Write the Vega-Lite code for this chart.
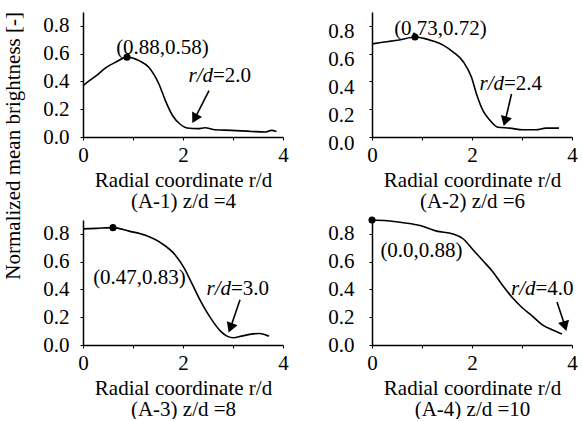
{
  "$schema": "https://vega.github.io/schema/vega-lite/v6.json",
  "padding": {"left": 2, "top": 12, "right": 2, "bottom": 0},
  "title": {"text": "Normalized mean brightness [-]", "orient": "left", "anchor": "end", "offset": 19, "font": "Liberation Serif", "fontSize": 21, "fontWeight": "normal", "color": "black"},
  "datasets": {
    "curve": [
      {"p": "A-1", "x": 0, "y": 0.37}, {"p": "A-1", "x": 0.07, "y": 0.39}, {"p": "A-1", "x": 0.26, "y": 0.44}, {"p": "A-1", "x": 0.46, "y": 0.5}, {"p": "A-1", "x": 0.66, "y": 0.54}, {"p": "A-1", "x": 0.88, "y": 0.575}, {"p": "A-1", "x": 1.12, "y": 0.55}, {"p": "A-1", "x": 1.32, "y": 0.5}, {"p": "A-1", "x": 1.52, "y": 0.38}, {"p": "A-1", "x": 1.65, "y": 0.26}, {"p": "A-1", "x": 1.79, "y": 0.155}, {"p": "A-1", "x": 1.95, "y": 0.09}, {"p": "A-1", "x": 2.08, "y": 0.065}, {"p": "A-1", "x": 2.3, "y": 0.06}, {"p": "A-1", "x": 2.44, "y": 0.067}, {"p": "A-1", "x": 2.64, "y": 0.052}, {"p": "A-1", "x": 2.97, "y": 0.048}, {"p": "A-1", "x": 3.37, "y": 0.04}, {"p": "A-1", "x": 3.64, "y": 0.036}, {"p": "A-1", "x": 3.77, "y": 0.048}, {"p": "A-1", "x": 3.87, "y": 0.04},
      {"p": "A-2", "x": 0, "y": 0.67}, {"p": "A-2", "x": 0.18, "y": 0.68}, {"p": "A-2", "x": 0.38, "y": 0.69}, {"p": "A-2", "x": 0.57, "y": 0.7}, {"p": "A-2", "x": 0.86, "y": 0.72}, {"p": "A-2", "x": 1.04, "y": 0.71}, {"p": "A-2", "x": 1.23, "y": 0.69}, {"p": "A-2", "x": 1.43, "y": 0.66}, {"p": "A-2", "x": 1.63, "y": 0.61}, {"p": "A-2", "x": 1.83, "y": 0.54}, {"p": "A-2", "x": 1.99, "y": 0.43}, {"p": "A-2", "x": 2.09, "y": 0.31}, {"p": "A-2", "x": 2.22, "y": 0.19}, {"p": "A-2", "x": 2.36, "y": 0.12}, {"p": "A-2", "x": 2.52, "y": 0.07}, {"p": "A-2", "x": 2.75, "y": 0.064}, {"p": "A-2", "x": 3.02, "y": 0.052}, {"p": "A-2", "x": 3.28, "y": 0.052}, {"p": "A-2", "x": 3.48, "y": 0.064}, {"p": "A-2", "x": 3.74, "y": 0.064},
      {"p": "A-3", "x": 0, "y": 0.836}, {"p": "A-3", "x": 0.27, "y": 0.84}, {"p": "A-3", "x": 0.6, "y": 0.845}, {"p": "A-3", "x": 0.92, "y": 0.82}, {"p": "A-3", "x": 1.25, "y": 0.79}, {"p": "A-3", "x": 1.58, "y": 0.73}, {"p": "A-3", "x": 1.84, "y": 0.65}, {"p": "A-3", "x": 2.03, "y": 0.55}, {"p": "A-3", "x": 2.16, "y": 0.456}, {"p": "A-3", "x": 2.36, "y": 0.31}, {"p": "A-3", "x": 2.55, "y": 0.195}, {"p": "A-3", "x": 2.75, "y": 0.1}, {"p": "A-3", "x": 2.88, "y": 0.064}, {"p": "A-3", "x": 3.01, "y": 0.052}, {"p": "A-3", "x": 3.17, "y": 0.064}, {"p": "A-3", "x": 3.4, "y": 0.08}, {"p": "A-3", "x": 3.53, "y": 0.083}, {"p": "A-3", "x": 3.66, "y": 0.071}, {"p": "A-3", "x": 3.72, "y": 0.064},
      {"p": "A-4", "x": 0, "y": 0.9}, {"p": "A-4", "x": 0.3, "y": 0.895}, {"p": "A-4", "x": 0.63, "y": 0.88}, {"p": "A-4", "x": 0.96, "y": 0.86}, {"p": "A-4", "x": 1.29, "y": 0.82}, {"p": "A-4", "x": 1.62, "y": 0.8}, {"p": "A-4", "x": 1.82, "y": 0.765}, {"p": "A-4", "x": 2.01, "y": 0.69}, {"p": "A-4", "x": 2.21, "y": 0.61}, {"p": "A-4", "x": 2.41, "y": 0.53}, {"p": "A-4", "x": 2.61, "y": 0.43}, {"p": "A-4", "x": 2.81, "y": 0.34}, {"p": "A-4", "x": 3.0, "y": 0.27}, {"p": "A-4", "x": 3.2, "y": 0.21}, {"p": "A-4", "x": 3.4, "y": 0.147}, {"p": "A-4", "x": 3.6, "y": 0.11}, {"p": "A-4", "x": 3.8, "y": 0.08}
    ],
    "peak": [
      {"p": "A-1", "x": 0.88, "y": 0.575, "tx": 1.59, "ty": 0.64, "t": "(0.88,0.58)"},
      {"p": "A-2", "x": 0.86, "y": 0.72, "tx": 1.37, "ty": 0.776, "t": "(0.73,0.72)"},
      {"p": "A-3", "x": 0.6, "y": 0.845, "tx": 1.13, "ty": 0.48, "t": "(0.47,0.83)"},
      {"p": "A-4", "x": 0, "y": 0.9, "tx": 0.99, "ty": 0.68, "t": "(0.0,0.88)"}
    ],
    "arrow": [
      {"p": "A-1", "x": 2.52, "y": 0.334, "x2": 2.25, "y2": 0.143, "lx": 2.6, "ly": 0.44, "v": "=2.0"},
      {"p": "A-2", "x": 2.79, "y": 0.31, "x2": 2.67, "y2": 0.124, "lx": 2.64, "ly": 0.38, "v": "=2.4"},
      {"p": "A-3", "x": 3.14, "y": 0.325, "x2": 2.96, "y2": 0.135, "lx": 2.96, "ly": 0.4, "v": "=3.0"},
      {"p": "A-4", "x": 3.7, "y": 0.31, "x2": 3.85, "y2": 0.147, "lx": 3.27, "ly": 0.4, "v": "=4.0"}
    ]
  },
  "config": {
    "font": "Liberation Serif",
    "view": {"stroke": null},
    "axis": {"grid": false, "domainColor": "black", "domainWidth": 1.5, "tickColor": "black", "labelColor": "black", "titleColor": "black", "labelFont": "Liberation Serif", "titleFont": "Liberation Serif", "labelFontSize": 21, "titleFontSize": 21, "titleFontWeight": "normal", "tickSize": 3, "labelFlush": false},
    "axisX": {"values": [0, 0.2, 0.4, 0.6, 0.8, 1, 1.2, 1.4, 1.6, 1.8, 2, 2.2, 2.4, 2.6, 2.8, 3, 3.2, 3.4, 3.6, 3.8, 4], "labelExpr": "datum.value == 0 || datum.value == 2 || datum.value == 4 ? format(datum.value, 'd') : ''", "labelPadding": 4, "titlePadding": 4, "titleLineHeight": 21},
    "axisY": {"values": [0, 0.2, 0.4, 0.6, 0.8], "format": ".1f", "labelPadding": 11, "title": null},
    "text": {"font": "Liberation Serif", "fontSize": 21, "color": "black"},
    "line": {"color": "black", "strokeWidth": 1.6, "interpolate": "monotone"},
    "rule": {"color": "black", "strokeWidth": 1.6},
    "point": {"color": "black", "filled": true, "opacity": 1}
  },
  "vconcat": [
    {"hconcat": [
      {"width": 200, "height": 125, "layer": [
        {"data": {"name": "curve"}, "transform": [{"filter": "datum.p == 'A-1'"}], "mark": {"type": "line"}, "encoding": {"x": {"field": "x", "type": "quantitative", "scale": {"domain": [0, 4]}, "axis": {"title": ["Radial coordinate r/d", "(A-1) z/d =4"]}}, "y": {"field": "y", "type": "quantitative", "scale": {"domain": [0, 0.9]}}}},
        {"data": {"name": "peak"}, "transform": [{"filter": "datum.p == 'A-1'"}], "mark": {"type": "point", "size": 50}, "encoding": {"x": {"field": "x", "type": "quantitative"}, "y": {"field": "y", "type": "quantitative"}}},
        {"data": {"name": "peak"}, "transform": [{"filter": "datum.p == 'A-1'"}], "mark": {"type": "text"}, "encoding": {"x": {"field": "tx", "type": "quantitative"}, "y": {"field": "ty", "type": "quantitative"}, "text": {"field": "t"}}},
        {"data": {"name": "arrow"}, "transform": [{"filter": "datum.p == 'A-1'"}], "mark": {"type": "rule"}, "encoding": {"x": {"field": "x", "type": "quantitative"}, "y": {"field": "y", "type": "quantitative"}, "x2": {"field": "x2"}, "y2": {"field": "y2"}}},
        {"data": {"name": "arrow"}, "transform": [{"filter": "datum.p == 'A-1'"}], "mark": {"type": "point", "shape": "triangle", "size": 130, "angle": 209}, "encoding": {"x": {"field": "x2", "type": "quantitative"}, "y": {"field": "y2", "type": "quantitative"}}},
        {"data": {"name": "arrow"}, "transform": [{"filter": "datum.p == 'A-1'"}], "mark": {"type": "text", "align": "right", "fontStyle": "italic", "text": "r/d"}, "encoding": {"x": {"field": "lx", "type": "quantitative"}, "y": {"field": "ly", "type": "quantitative"}}},
        {"data": {"name": "arrow"}, "transform": [{"filter": "datum.p == 'A-1'"}], "mark": {"type": "text", "align": "left"}, "encoding": {"x": {"field": "lx", "type": "quantitative"}, "y": {"field": "ly", "type": "quantitative"}, "text": {"field": "v"}}}
      ]},
      {"width": 200, "height": 125, "layer": [
        {"data": {"name": "curve"}, "transform": [{"filter": "datum.p == 'A-2'"}], "mark": {"type": "line"}, "encoding": {"x": {"field": "x", "type": "quantitative", "scale": {"domain": [0, 4]}, "axis": {"title": ["Radial coordinate r/d", "(A-2) z/d =6"]}}, "y": {"field": "y", "type": "quantitative", "scale": {"domain": [0, 0.9]}, "axis": {"labelOffset": 6, "labelPadding": 15}}}},
        {"data": {"name": "peak"}, "transform": [{"filter": "datum.p == 'A-2'"}], "mark": {"type": "point", "size": 50}, "encoding": {"x": {"field": "x", "type": "quantitative"}, "y": {"field": "y", "type": "quantitative"}}},
        {"data": {"name": "peak"}, "transform": [{"filter": "datum.p == 'A-2'"}], "mark": {"type": "text"}, "encoding": {"x": {"field": "tx", "type": "quantitative"}, "y": {"field": "ty", "type": "quantitative"}, "text": {"field": "t"}}},
        {"data": {"name": "arrow"}, "transform": [{"filter": "datum.p == 'A-2'"}], "mark": {"type": "rule"}, "encoding": {"x": {"field": "x", "type": "quantitative"}, "y": {"field": "y", "type": "quantitative"}, "x2": {"field": "x2"}, "y2": {"field": "y2"}}},
        {"data": {"name": "arrow"}, "transform": [{"filter": "datum.p == 'A-2'"}], "mark": {"type": "point", "shape": "triangle", "size": 130, "angle": 196}, "encoding": {"x": {"field": "x2", "type": "quantitative"}, "y": {"field": "y2", "type": "quantitative"}}},
        {"data": {"name": "arrow"}, "transform": [{"filter": "datum.p == 'A-2'"}], "mark": {"type": "text", "align": "right", "fontStyle": "italic", "text": "r/d"}, "encoding": {"x": {"field": "lx", "type": "quantitative"}, "y": {"field": "ly", "type": "quantitative"}}},
        {"data": {"name": "arrow"}, "transform": [{"filter": "datum.p == 'A-2'"}], "mark": {"type": "text", "align": "left"}, "encoding": {"x": {"field": "lx", "type": "quantitative"}, "y": {"field": "ly", "type": "quantitative"}, "text": {"field": "v"}}}
      ]}
    ], "spacing": 38},
    {"hconcat": [
      {"width": 200, "height": 125, "layer": [
        {"data": {"name": "curve"}, "transform": [{"filter": "datum.p == 'A-3'"}], "mark": {"type": "line"}, "encoding": {"x": {"field": "x", "type": "quantitative", "scale": {"domain": [0, 4]}, "axis": {"title": ["Radial coordinate r/d", "(A-3) z/d =8"]}}, "y": {"field": "y", "type": "quantitative", "scale": {"domain": [0, 0.9]}}}},
        {"data": {"name": "peak"}, "transform": [{"filter": "datum.p == 'A-3'"}], "mark": {"type": "point", "size": 50}, "encoding": {"x": {"field": "x", "type": "quantitative"}, "y": {"field": "y", "type": "quantitative"}}},
        {"data": {"name": "peak"}, "transform": [{"filter": "datum.p == 'A-3'"}], "mark": {"type": "text"}, "encoding": {"x": {"field": "tx", "type": "quantitative"}, "y": {"field": "ty", "type": "quantitative"}, "text": {"field": "t"}}},
        {"data": {"name": "arrow"}, "transform": [{"filter": "datum.p == 'A-3'"}], "mark": {"type": "rule"}, "encoding": {"x": {"field": "x", "type": "quantitative"}, "y": {"field": "y", "type": "quantitative"}, "x2": {"field": "x2"}, "y2": {"field": "y2"}}},
        {"data": {"name": "arrow"}, "transform": [{"filter": "datum.p == 'A-3'"}], "mark": {"type": "point", "shape": "triangle", "size": 130, "angle": 201}, "encoding": {"x": {"field": "x2", "type": "quantitative"}, "y": {"field": "y2", "type": "quantitative"}}},
        {"data": {"name": "arrow"}, "transform": [{"filter": "datum.p == 'A-3'"}], "mark": {"type": "text", "align": "right", "fontStyle": "italic", "text": "r/d"}, "encoding": {"x": {"field": "lx", "type": "quantitative"}, "y": {"field": "ly", "type": "quantitative"}}},
        {"data": {"name": "arrow"}, "transform": [{"filter": "datum.p == 'A-3'"}], "mark": {"type": "text", "align": "left"}, "encoding": {"x": {"field": "lx", "type": "quantitative"}, "y": {"field": "ly", "type": "quantitative"}, "text": {"field": "v"}}}
      ]},
      {"width": 200, "height": 125, "layer": [
        {"data": {"name": "curve"}, "transform": [{"filter": "datum.p == 'A-4'"}], "mark": {"type": "line"}, "encoding": {"x": {"field": "x", "type": "quantitative", "scale": {"domain": [0, 4]}, "axis": {"title": ["Radial coordinate r/d", "(A-4) z/d =10"]}}, "y": {"field": "y", "type": "quantitative", "scale": {"domain": [0, 0.9]}, "axis": {"labelPadding": 15}}}},
        {"data": {"name": "peak"}, "transform": [{"filter": "datum.p == 'A-4'"}], "mark": {"type": "point", "size": 50}, "encoding": {"x": {"field": "x", "type": "quantitative"}, "y": {"field": "y", "type": "quantitative"}}},
        {"data": {"name": "peak"}, "transform": [{"filter": "datum.p == 'A-4'"}], "mark": {"type": "text"}, "encoding": {"x": {"field": "tx", "type": "quantitative"}, "y": {"field": "ty", "type": "quantitative"}, "text": {"field": "t"}}},
        {"data": {"name": "arrow"}, "transform": [{"filter": "datum.p == 'A-4'"}], "mark": {"type": "rule"}, "encoding": {"x": {"field": "x", "type": "quantitative"}, "y": {"field": "y", "type": "quantitative"}, "x2": {"field": "x2"}, "y2": {"field": "y2"}}},
        {"data": {"name": "arrow"}, "transform": [{"filter": "datum.p == 'A-4'"}], "mark": {"type": "point", "shape": "triangle", "size": 130, "angle": 164}, "encoding": {"x": {"field": "x2", "type": "quantitative"}, "y": {"field": "y2", "type": "quantitative"}}},
        {"data": {"name": "arrow"}, "transform": [{"filter": "datum.p == 'A-4'"}], "mark": {"type": "text", "align": "right", "fontStyle": "italic", "text": "r/d"}, "encoding": {"x": {"field": "lx", "type": "quantitative"}, "y": {"field": "ly", "type": "quantitative"}}},
        {"data": {"name": "arrow"}, "transform": [{"filter": "datum.p == 'A-4'"}], "mark": {"type": "text", "align": "left"}, "encoding": {"x": {"field": "lx", "type": "quantitative"}, "y": {"field": "ly", "type": "quantitative"}, "text": {"field": "v"}}}
      ]}
    ], "spacing": 38}
  ],
  "spacing": 5
}
